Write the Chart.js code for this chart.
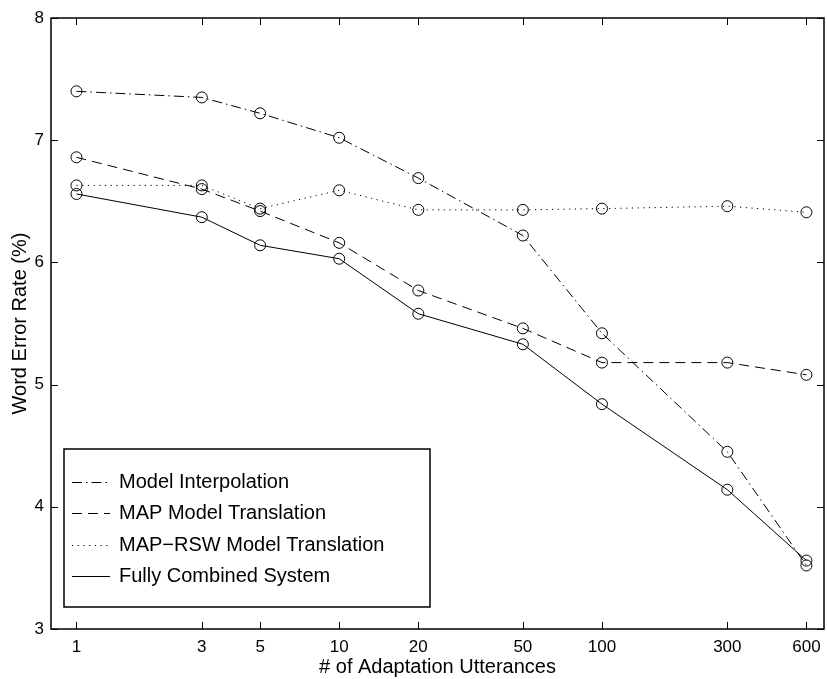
<!DOCTYPE html>
<html>
<head>
<meta charset="utf-8">
<script src="https://cdn.jsdelivr.net/npm/chart.js@4.4.1/dist/chart.umd.min.js"></script>
<style>
  html, body { margin: 0; padding: 0; background: #fff; }
  #wrap { width: 827px; height: 679px; }
</style>
</head>
<body>
<div id="wrap"><canvas id="chart-wer" width="827" height="679"></canvas></div>
<script>
// data
const utterances = [1, 3, 5, 10, 20, 50, 100, 300, 600];
const modelInterp = [7.40, 7.35, 7.22, 7.02, 6.69, 6.22, 5.42, 4.45, 3.52];
const mapTrans = [6.86, 6.60, 6.42, 6.16, 5.77, 5.46, 5.18, 5.18, 5.08];
const mapRswTrans = [6.63, 6.63, 6.44, 6.59, 6.43, 6.43, 6.44, 6.46, 6.41];
const fullyCombined = [6.56, 6.37, 6.14, 6.03, 5.58, 5.33, 4.84, 4.14, 3.56];
const xTicks = [1, 3, 5, 10, 20, 50, 100, 300, 600];
const yTicks = [3, 4, 5, 6, 7, 8];

const FONT = "'Liberation Sans', Arial, Helvetica, sans-serif";

function toPoints(vals) {
  return utterances.map((x, i) => ({ x: x, y: vals[i] }));
}

function series(label, vals, dash) {
  return {
    label: label,
    data: toPoints(vals),
    borderColor: "#000",
    borderWidth: 1,
    borderDash: dash,
    tension: 0,
    fill: false,
    pointStyle: "circle",
    pointRadius: 5.5,
    pointBorderWidth: 1,
    pointBorderColor: "#000",
    pointBackgroundColor: "rgba(0,0,0,0)",
  };
}

// matlab style box, inward ticks, and the boxed legend
const matlabFrame = {
  id: "matlabFrame",
  beforeDraw(chart) {
    const c = chart.ctx;
    c.save();
    c.fillStyle = "#fff";
    c.fillRect(0, 0, chart.width, chart.height);
    c.restore();
  },
  afterDraw(chart) {
    const c = chart.ctx;
    const a = chart.chartArea;
    const xs = chart.scales.x;
    const ys = chart.scales.y;
    const tl = 7;
    c.save();
    c.strokeStyle = "#000";
    c.lineWidth = 1;
    c.setLineDash([]);
    c.beginPath();
    xTicks.forEach((v) => {
      const px = Math.round(xs.getPixelForValue(v)) + 0.5;
      c.moveTo(px, a.bottom); c.lineTo(px, a.bottom - tl);
      c.moveTo(px, a.top); c.lineTo(px, a.top + tl);
    });
    yTicks.forEach((v) => {
      const py = Math.round(ys.getPixelForValue(v)) + 0.5;
      c.moveTo(a.left, py); c.lineTo(a.left + tl, py);
      c.moveTo(a.right, py); c.lineTo(a.right - tl, py);
    });
    c.stroke();
    c.lineWidth = 1.5;
    c.strokeRect(a.left, a.top, a.right - a.left, a.bottom - a.top);

    // legend
    const lx = 64, ly = 449, lw = 366, lh = 158;
    c.fillStyle = "#fff";
    c.fillRect(lx, ly, lw, lh);
    c.lineWidth = 1.5;
    c.strokeRect(lx, ly, lw, lh);
    c.font = "20px " + FONT;
    c.textBaseline = "middle";
    c.textAlign = "left";
    chart.data.datasets.forEach((ds, i) => {
      const ry = Math.round(ly + 33 + i * 31.3) + 0.5;
      c.lineWidth = 1;
      c.setLineDash(ds.borderDash || []);
      c.beginPath();
      c.moveTo(72, ry);
      c.lineTo(110, ry);
      c.stroke();
      c.setLineDash([]);
      c.fillStyle = "#000";
      c.fillText(ds.label, 119, ry);
    });
    c.restore();
  },
};

const ctx = document.getElementById("chart-wer").getContext("2d");
new Chart(ctx, {
  type: "line",
  data: {
    datasets: [
      series("Model Interpolation", modelInterp, [10, 4, 1.5, 4]),
      series("MAP Model Translation", mapTrans, [10, 6]),
      series("MAP\u2212RSW Model Translation", mapRswTrans, [1.2, 4.5]),
      series("Fully Combined System", fullyCombined, []),
    ],
  },
  options: {
    responsive: false,
    animation: false,
    layout: {
      autoPadding: false,
      padding: { top: 18, right: 3, bottom: 0, left: 0 },
    },
    plugins: {
      legend: { display: false },
      tooltip: { enabled: false },
    },
    scales: {
      x: {
        type: "logarithmic",
        min: 0.8,
        max: 700,
        afterBuildTicks: (scale) => {
          scale.ticks = xTicks.map((v) => ({ value: v }));
        },
        afterFit: (scale) => {
          scale.height = 50;
          scale.paddingLeft = 0;
          scale.paddingRight = 0;
        },
        grid: { display: false, drawTicks: false },
        border: { display: false },
        ticks: {
          autoSkip: false,
          maxRotation: 0,
          padding: 8,
          color: "#000",
          font: { size: 17, family: FONT },
          callback: (v) => String(v),
        },
        title: {
          display: true,
          text: "# of Adaptation Utterances",
          color: "#000",
          font: { size: 20, family: FONT },
          padding: { top: 0, bottom: 0 },
        },
      },
      y: {
        type: "linear",
        min: 3,
        max: 8,
        afterBuildTicks: (scale) => {
          scale.ticks = yTicks.map((v) => ({ value: v }));
        },
        afterFit: (scale) => {
          scale.width = 51;
          scale.paddingTop = 0;
          scale.paddingBottom = 0;
        },
        grid: { display: false, drawTicks: false },
        border: { display: false },
        ticks: {
          padding: 7,
          color: "#000",
          font: { size: 17, family: FONT },
        },
        title: {
          display: true,
          text: "Word Error Rate (%)",
          color: "#000",
          font: { size: 20, family: FONT },
          padding: { top: 8, bottom: 0 },
        },
      },
    },
  },
  plugins: [matlabFrame],
});
</script>
</body>
</html>
